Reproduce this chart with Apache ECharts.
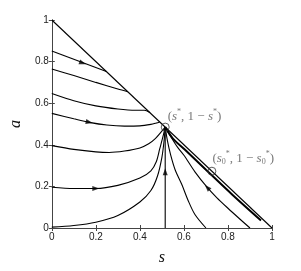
<!DOCTYPE html>
<html><head><meta charset="utf-8">
<script src="https://cdn.jsdelivr.net/npm/echarts@6/dist/echarts.min.js"></script>
<style>html,body{margin:0;padding:0;background:#fff}#c{width:301px;height:271px}</style>
</head><body><div id="c"></div>
<script>
// axis ticks
const sTicks = [0, 0.2, 0.4, 0.6, 0.8, 1];
const aTicks = [0, 0.2, 0.4, 0.6, 0.8, 1];

// boundary a = 1 - s
const diagS = [0, 1];
const diagA = [1, 0];

// trajectories from the left edge (listed in flow direction)
const c1S = [0, 0.248];
const c1A = [0.851, 0.752];
const c2S = [0, 0.1, 0.2, 0.3, 0.345];
const c2A = [0.764, 0.733, 0.7, 0.668, 0.655];
const c3S = [0, 0.1, 0.2, 0.3, 0.38, 0.42, 0.445];
const c3A = [0.647, 0.612, 0.587, 0.572, 0.566, 0.566, 0.555];
const c4S = [0, 0.1, 0.17, 0.25, 0.33, 0.4, 0.45, 0.475, 0.49];
const c4A = [0.551, 0.525, 0.508, 0.495, 0.49, 0.491, 0.498, 0.505, 0.51];
const c5S = [0, 0.1, 0.2, 0.26, 0.33, 0.4, 0.44, 0.47, 0.495, 0.515];
const c5A = [0.396, 0.378, 0.366, 0.363, 0.37, 0.385, 0.405, 0.43, 0.46, 0.485];
const c6S = [0, 0.1, 0.2, 0.3, 0.4, 0.45, 0.475, 0.49, 0.505, 0.515];
const c6A = [0.196, 0.19, 0.19, 0.205, 0.24, 0.275, 0.32, 0.38, 0.44, 0.485];
const c7S = [0, 0.1, 0.2, 0.3, 0.4, 0.45, 0.48, 0.5, 0.51, 0.515];
const c7A = [0.004, 0.012, 0.028, 0.06, 0.125, 0.18, 0.25, 0.34, 0.42, 0.485];
// vertical trajectory
const vS = [0.515, 0.515];
const vA = [0, 0.485];
// trajectories from the bottom-right
const r1S = [0.7, 0.65, 0.62, 0.59, 0.56, 0.54, 0.525, 0.515];
const r1A = [0, 0.065, 0.13, 0.21, 0.28, 0.35, 0.42, 0.485];
const r2S = [0.9, 0.85, 0.8, 0.75, 0.706, 0.65, 0.6, 0.57, 0.54, 0.515];
const r2A = [0, 0.047, 0.095, 0.145, 0.195, 0.27, 0.35, 0.39, 0.44, 0.485];
const r3S = [0.95, 0.82, 0.7, 0.605, 0.55, 0.515];
const r3A = [0.036, 0.16, 0.28, 0.376, 0.43, 0.485];

// equilibrium points
const ptS = [0.515, 0.727];
const ptA = [0.485, 0.273];

// arrows: location and the trajectory they sit on
const arrowS = [0.14, 0.17, 0.2, 0.515, 0.706];
const arrowA = [0.793, 0.508, 0.19, 0.27, 0.195];
const arrowOn = ['c1', 'c4', 'c6', 'v', 'r2'];

const curves = {
  c1: [c1S, c1A], c2: [c2S, c2A], c3: [c3S, c3A], c4: [c4S, c4A],
  c5: [c5S, c5A], c6: [c6S, c6A], c7: [c7S, c7A], v: [vS, vA],
  r1: [r1S, r1A], r2: [r2S, r2A]
};

function zip(xs, ys) { return xs.map((x, i) => [x, ys[i]]); }

const chart = echarts.init(document.getElementById('c'), null, {renderer: 'canvas'});
const serif = 'Liberation Serif';
const sans = 'Liberation Sans';
const lineCol = '#000';

const series = [];
series.push({type: 'line', data: zip(diagS, diagA), symbol: 'none', lineStyle: {color: lineCol, width: 1.1}, z: 3, silent: true});
Object.keys(curves).forEach(k => {
  series.push({type: 'line', data: zip(curves[k][0], curves[k][1]), symbol: 'none',
    smooth: curves[k][0].length > 2 ? 0.3 : false,
    lineStyle: {color: lineCol, width: 1.1}, z: 3, silent: true});
});
series.push({type: 'line', data: zip(r3S, r3A), symbol: 'none', smooth: 0.3,
  lineStyle: {color: lineCol, width: 2}, z: 3, silent: true});

const tc = '#555';
const rich = {
  n: {fontFamily: serif, fontSize: 13, color: tc, lineHeight: 16},
  i: {fontFamily: serif, fontSize: 13, fontStyle: 'italic', color: tc, lineHeight: 16},
  sup: {fontFamily: serif, fontSize: 8, color: tc, verticalAlign: 'top', lineHeight: 10},
  sub: {fontFamily: serif, fontSize: 8, color: tc, verticalAlign: 'bottom', lineHeight: 8}
};
const labels = [
  '{n|(}{i|s}{sup|*}{n|, 1 − }{i|s}{sup|*}{n|)}',
  '{n|(}{i|s}{sub|0}{sup|*}{n|, 1 − }{i|s}{sub|0}{sup|*}{n|)}'
];
const offsets = [[-2, -11], [-4, -13]];
series.push({type: 'scatter', z: 5, silent: true,
  data: ptS.map((s, i) => ({value: [s, ptA[i]],
    label: {show: true, position: 'right', distance: 0, offset: offsets[i], formatter: labels[i], rich: rich}})),
  symbol: 'circle', symbolSize: 8,
  itemStyle: {color: 'rgba(0,0,0,0)', borderColor: '#333', borderWidth: 1}
});
const arrowSeriesIndex = series.length;
series.push({type: 'scatter', z: 6, silent: true, data: [], symbol: 'triangle', symbolSize: [5, 7],
  itemStyle: {color: '#000'}});

const axisCommon = {
  type: 'value', min: 0, max: 1, interval: 0.2,
  axisLine: {show: true, lineStyle: {color: '#444', width: 1}},
  axisTick: {show: true, inside: true, length: 3, lineStyle: {color: '#444'}},
  splitLine: {show: false}
};
chart.setOption({
  animation: false,
  backgroundColor: '#fff',
  grid: {left: 39, right: 29, top: 20, bottom: 32},
  xAxis: [
    Object.assign({}, axisCommon, {position: 'bottom',
      axisLabel: {fontFamily: sans, fontSize: 10, color: '#222', margin: 4,
        formatter: v => sTicks.indexOf(+v.toFixed(1)) >= 0 ? String(+v.toFixed(1)) : ''},
      name: 's', nameLocation: 'middle', nameGap: 22,
      nameTextStyle: {fontFamily: serif, fontStyle: 'italic', fontSize: 16, color: '#111'}}),
    Object.assign({}, axisCommon, {position: 'top', axisLabel: {show: false}})
  ],
  yAxis: [
    Object.assign({}, axisCommon, {position: 'left',
      axisLabel: {fontFamily: sans, fontSize: 10, color: '#222', margin: 3,
        formatter: v => aTicks.indexOf(+v.toFixed(1)) >= 0 ? String(+v.toFixed(1)) : ''},
      name: 'a', nameLocation: 'middle', nameGap: 20, nameRotate: 90,
      nameTextStyle: {fontFamily: serif, fontStyle: 'italic', fontSize: 16, color: '#111'}}),
    Object.assign({}, axisCommon, {position: 'right', axisLabel: {show: false}})
  ],
  series: series
});

// orient arrows along their trajectories
const arrowData = arrowS.map((s, j) => {
  const [xs, ys] = curves[arrowOn[j]];
  const p = chart.convertToPixel({xAxisIndex: 0, yAxisIndex: 0}, [s, arrowA[j]]);
  let best = 0, bestD = Infinity;
  for (let i = 0; i < xs.length - 1; i++) {
    const m = chart.convertToPixel({xAxisIndex: 0, yAxisIndex: 0}, [(xs[i] + xs[i + 1]) / 2, (ys[i] + ys[i + 1]) / 2]);
    const d = Math.hypot(m[0] - p[0], m[1] - p[1]);
    if (d < bestD) { bestD = d; best = i; }
  }
  const p1 = chart.convertToPixel({xAxisIndex: 0, yAxisIndex: 0}, [xs[best], ys[best]]);
  const p2 = chart.convertToPixel({xAxisIndex: 0, yAxisIndex: 0}, [xs[best + 1], ys[best + 1]]);
  const ang = Math.atan2(-(p2[1] - p1[1]), p2[0] - p1[0]) * 180 / Math.PI;
  return {value: [s, arrowA[j]], symbolRotate: ang - 90};
});
chart.setOption({series: series.map((_, i) => i === arrowSeriesIndex ? {data: arrowData} : {})});
</script>
</body></html>
